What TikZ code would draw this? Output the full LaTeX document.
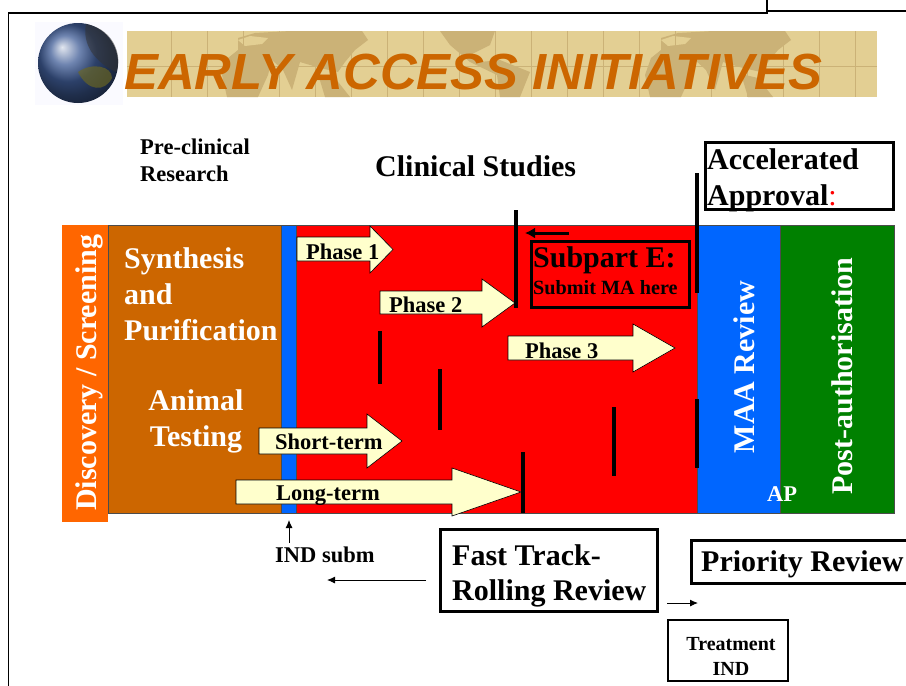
\documentclass[tikz,border=0pt]{standalone}
\usepackage{fontspec}
\setmainfont{Liberation Serif}
\newfontfamily\titlefont{Liberation Sans}
\usetikzlibrary{arrows.meta}
\definecolor{brownbar}{HTML}{CC6600}
\definecolor{orangebar}{HTML}{FF6600}
\definecolor{bluebar}{HTML}{0066FF}
\definecolor{greenbar}{HTML}{008000}
\definecolor{bannerbg}{HTML}{E3CF93}
\definecolor{bannerland}{HTML}{CBB277}
\definecolor{arrowfill}{HTML}{FFFFCC}
\definecolor{globeblue}{HTML}{3F5C96}
\tikzset{
  lbl/.style={font=\bfseries\fontsize{22.5}{27}\selectfont, inner sep=0pt, align=left},
  biglbl/.style={font=\bfseries\fontsize{30}{36}\selectfont, inner sep=0pt, align=left},
  whitelbl/.style={biglbl, text=white},
  bar/.style={draw=black!70, line width=0.5pt},
  tick/.style={line width=3.5pt},
  boxed/.style={draw, line width=3.2pt, inner sep=0pt},
  thinarrow/.style={-{Latex[length=8pt,width=7pt]}, line width=0.9pt}
}
% block arrow: left, head base, tip, shaft top, shaft bottom, head top, head bottom
\newcommand{\blockarrow}[7]{
  \draw[fill=arrowfill, line width=0.6pt] (#1,#4) -- (#2,#4) -- (#2,#6) -- (#3,{(#6+#7)/2}) -- (#2,#7) -- (#2,#5) -- (#1,#5) -- cycle;
}
\newcommand{\landmass}{
  \fill[bannerland] (227,97) -- (222,75) -- (228,58) -- (238,50) -- (238,38) -- (255,33) -- (290,31) -- (362,31) -- (368,40) -- (355,50) -- (345,62) -- (338,72) -- (320,68) -- (300,62) -- (292,90) -- (283,70) -- (272,60) -- (268,75) -- (258,97) -- cycle;
  \fill[bannerland] (318,74) -- (335,78) -- (350,97) -- (325,97) -- cycle;
  \fill[bannerbg] (238,40) -- (250,36) -- (268,38) -- (262,44) -- (245,46) -- cycle;
}
\begin{document}
\begin{tikzpicture}[x=1pt, y=-1pt]
  \useasboundingbox (0,0) rectangle (906,686);
  % page frame
  \draw[line width=1.6pt] (8.5,686) -- (8.5,13) -- (767,13) -- (767,0);
  \draw[line width=1.6pt] (767,11) -- (906,11);
  % globe and banner
  \fill[blue!2] (35,22) rectangle (123,105);
  \fill[bannerbg] (127,31) rectangle (877,97);
  \begin{scope}
    \clip (127,31) rectangle (877,97);
    \landmass
    \begin{scope}[xshift=423pt]
      \landmass
    \end{scope}
    \fill[bannerland] (440,31) -- (495,31) -- (490,45) -- (470,55) -- (480,62) -- (500,60) -- (530,72) -- (520,97) -- (500,97) -- (497,75) -- (470,62) -- (450,45) -- cycle;
    \foreach \gx in {0,...,19}
      \draw[bannerland, line width=0.7pt] ({171+36*\gx},31) -- ({171+36*\gx},97);
    \draw[bannerland, line width=0.7pt] (127,66) -- (877,66);
  \end{scope}
  \shade[ball color=globeblue] (78,63) circle (40);
  \fill[black!80, opacity=0.55] (86,24) .. controls (118,30) and (122,62) .. (116,72) .. controls (95,62) and (82,45) .. (86,24) -- cycle;
  \fill[olive!70!black, opacity=0.65] (78,72) .. controls (92,62) and (112,66) .. (112,78) .. controls (105,92) and (88,92) .. (78,72) -- cycle;
  \node[font=\titlefont\bfseries\itshape\fontsize{50.8}{60}\selectfont, text=brownbar, inner sep=0pt, anchor=base west] (title) at (124,89) {EARLY ACCESS INITIATIVES};
  % headings
  \node[lbl, anchor=west] (preclin) at (140,160) {Pre-clinical\\Research};
  \node[biglbl, anchor=base west] (clinical) at (375,176) {Clinical Studies};
  % timeline bars
  \fill[orangebar] (62,225) rectangle (108,522);
  \draw[bar, fill=brownbar] (108,225) rectangle (281,513);
  \draw[bar, fill=bluebar] (281,225) rectangle (296,513);
  \draw[bar, fill=red] (296,225) rectangle (697,513);
  \draw[bar, fill=bluebar] (697,225) rectangle (780,513);
  \draw[bar, fill=greenbar] (780,225) rectangle (894,513);
  % bar labels
  \node[whitelbl, rotate=90, anchor=base west] (discovery) at (96,511) {Discovery / Screening};
  \node[whitelbl, anchor=west] (synthesis) at (124,294) {Synthesis\\and\\Purification};
  \node[whitelbl, align=center] (animal) at (196,421) {Animal\\Testing};
  \node[whitelbl, rotate=90, anchor=base] (maa) at (754,367) {MAA Review};
  \node[whitelbl, rotate=90, anchor=base] (postauth) at (852,376) {Post-authorisation};
  \node[lbl, text=white, anchor=base west] (ap) at (767,501) {AP};
  % block arrows
  \blockarrow{297}{370}{393}{237}{261}{226}{273}
  \blockarrow{380}{482}{515}{291}{314}{279}{327}
  \blockarrow{508}{633}{675}{336}{360}{324}{372}
  \blockarrow{259}{367}{402}{428}{454}{414}{468}
  \blockarrow{236}{452}{521}{480}{504}{468}{516}
  \node[lbl, anchor=base west] (phase1) at (306,259) {Phase 1};
  \node[lbl, anchor=base west] (phase2) at (389,312) {Phase 2};
  \node[lbl, anchor=base west] (phase3) at (525,358) {Phase 3};
  \node[lbl, anchor=base west] (short) at (275,449) {Short-term};
  \node[lbl, anchor=base west] (long) at (276,500) {Long-term};
  % milestones
  \foreach \tx/\ta/\tb in {516/210/308, 697/173/293, 380/331/384, 440/369/430, 614/407/476, 697/399/468, 523/452/513}
    \draw[tick] (\tx,\ta) -- (\tx,\tb);
  % subpart E
  \node[boxed, minimum width=158pt, minimum height=66pt] (subpart) at (610.5,274.5) {};
  \node[biglbl, anchor=base west] (subparttxt) at (533,267) {Subpart E:};
  \node[font=\bfseries\fontsize{20.2}{24}\selectfont, inner sep=0pt, anchor=base west] (submit) at (533,294) {Submit MA here};
  \coordinate (subarrow) at (569,233);
  \coordinate (subarrowend) at (525,233);
  \draw[-{Latex[length=10pt,width=11pt]}, line width=3pt] (subarrow) -- (subarrowend);
  % review boxes
  \node[boxed, minimum width=188pt, minimum height=67pt] (accel) at (799.5,176) {};
  \node[biglbl, anchor=base west] (acceltxt) at (707,169) {Accelerated};
  \node[biglbl, anchor=base west] (approvaltxt) at (707,205) {Approval\textcolor{red}{\mdseries:}};
  \node[boxed, minimum width=217pt, minimum height=82pt] (fast) at (549,570.5) {};
  \node[biglbl, anchor=base west] (fasttxt) at (452,565) {Fast Track-};
  \node[biglbl, anchor=base west] (rollingtxt) at (452,600) {Rolling Review};
  \node[boxed, minimum width=228pt, minimum height=43pt, anchor=west] (priority) at (690,562) {};
  \node[biglbl, anchor=base west] (prioritytxt) at (701,571) {Priority Review};
  \node[draw, line width=2pt, minimum width=120pt, minimum height=61pt, inner sep=0pt] (treatment) at (728,650) {};
  \node[font=\bfseries\fontsize{20}{25}\selectfont, inner sep=0pt, align=center] (treatmenttxt) at (731,656) {Treatment\\IND};
  % small arrows
  \node[lbl, anchor=base west] (ind) at (275,562) {IND subm};
  \coordinate (indtop) at (289,520);
  \coordinate (indlow) at (289,543);
  \draw[thinarrow] (indlow) -- (indtop);
  \coordinate (leftend) at (327,580);
  \coordinate (leftstart) at (426,580);
  \draw[thinarrow] (leftstart) -- (leftend);
  \coordinate (rightstart) at (667,603);
  \coordinate (rightend) at (698,603);
  \draw[thinarrow] (rightstart) -- (rightend);
\end{tikzpicture}
\end{document}
